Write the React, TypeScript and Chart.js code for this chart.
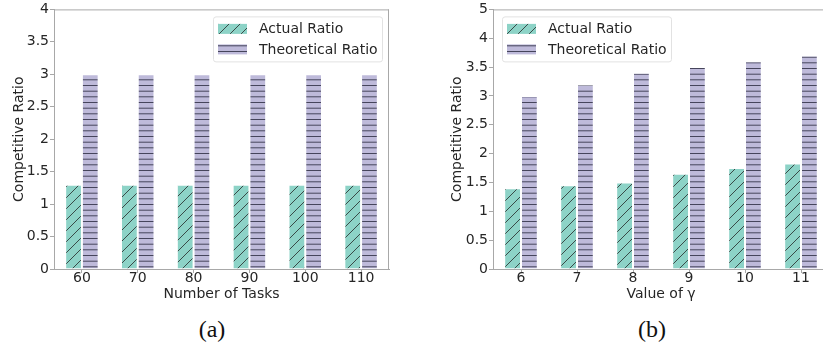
import React, { useEffect, useRef } from 'react';
import { Chart, registerables } from 'chart.js';

Chart.register(...registerables);

// ---------- data ----------
const seriesLabels = ['Actual Ratio', 'Theoretical Ratio'];

const categoriesA = ['60', '70', '80', '90', '100', '110'];
const actualA = [1.3, 1.3, 1.3, 1.3, 1.3, 1.3];
const theoreticalA = [3, 3, 3, 3, 3, 3];
const yTicksA = ['0', '0.5', '1', '1.5', '2', '2.5', '3', '3.5', '4'];

const categoriesB = ['6', '7', '8', '9', '10', '11'];
const actualB = [1.4, 1.45, 1.5, 1.65, 1.75, 1.83];
const theoreticalB = [3.0, 3.2, 3.4, 3.5, 3.6, 3.7];
const yTicksB = ['0', '0.5', '1', '1.5', '2', '2.5', '3', '3.5', '4', '5'];

// ---------- style ----------
const FONT = "'DejaVu Sans', sans-serif";
const FS = 14;
const TEXT = '#262626';
const SPINE = '#a8a8a8';
const GREEN = '#8dd3c7';
const PURPLE = '#bebada';

function makeDiag(): CanvasPattern | string {
  const s = 11;
  const c = document.createElement('canvas');
  c.width = s;
  c.height = s;
  const g = c.getContext('2d');
  if (!g) return GREEN;
  g.fillStyle = GREEN;
  g.fillRect(0, 0, s, s);
  g.strokeStyle = 'rgba(30,30,30,0.85)';
  g.lineWidth = 0.9;
  g.beginPath();
  g.moveTo(-1, s + 1);
  g.lineTo(s + 1, -1);
  g.moveTo(-2, 2);
  g.lineTo(2, -2);
  g.moveTo(s - 2, s + 2);
  g.lineTo(s + 2, s - 2);
  g.stroke();
  return g.createPattern(c, 'repeat') || GREEN;
}

function makeHoriz(): CanvasPattern | string {
  const w = 4;
  const h = 17;
  const c = document.createElement('canvas');
  c.width = w;
  c.height = h;
  const g = c.getContext('2d');
  if (!g) return PURPLE;
  g.fillStyle = PURPLE;
  g.fillRect(0, 0, w, h);
  g.strokeStyle = 'rgba(40,40,60,0.8)';
  g.lineWidth = 1;
  [0.5, 6.2, 11.8].forEach((y) => {
    g.beginPath();
    g.moveTo(0, y);
    g.lineTo(w, y);
    g.stroke();
  });
  return g.createPattern(c, 'repeat') || PURPLE;
}

const framePlugin = {
  id: 'frame',
  afterDatasetsDraw(chart: any) {
    const { ctx, chartArea } = chart;
    ctx.save();
    ctx.strokeStyle = SPINE;
    ctx.lineWidth = 1;
    ctx.beginPath();
    ctx.moveTo(chartArea.left, chartArea.top + 0.5);
    ctx.lineTo(chartArea.right, chartArea.top + 0.5);
    ctx.moveTo(chartArea.right - 0.5, chartArea.top);
    ctx.lineTo(chartArea.right - 0.5, chartArea.bottom);
    ctx.stroke();
    ctx.restore();
  },
};

const boxLegendPlugin = {
  id: 'boxLegend',
  afterDraw(chart: any, _args: any, opts: any) {
    const { ctx, chartArea } = chart;
    const w = opts.w;
    const h = opts.h;
    const x = opts.anchor === 'right' ? chartArea.right - opts.dx - w : chartArea.left + opts.dx;
    const y = chartArea.top + opts.dy;
    ctx.save();
    ctx.beginPath();
    const r = 3;
    ctx.moveTo(x + r, y + 0.5);
    ctx.lineTo(x + w - r, y + 0.5);
    ctx.quadraticCurveTo(x + w - 0.5, y + 0.5, x + w - 0.5, y + r);
    ctx.lineTo(x + w - 0.5, y + h - r);
    ctx.quadraticCurveTo(x + w - 0.5, y + h - 0.5, x + w - r, y + h - 0.5);
    ctx.lineTo(x + r, y + h - 0.5);
    ctx.quadraticCurveTo(x + 0.5, y + h - 0.5, x + 0.5, y + h - r);
    ctx.lineTo(x + 0.5, y + r);
    ctx.quadraticCurveTo(x + 0.5, y + 0.5, x + r, y + 0.5);
    ctx.closePath();
    ctx.fillStyle = 'rgba(255,255,255,0.85)';
    ctx.fill();
    ctx.strokeStyle = '#e2e2e2';
    ctx.lineWidth = 1;
    ctx.stroke();
    const ds = chart.data.datasets;
    const rows = [y + 12.5, y + 33];
    ds.forEach((d: any, i: number) => {
      const cy = rows[i];
      ctx.fillStyle = d.backgroundColor;
      ctx.fillRect(x + 5, cy - 5, 29, 10);
      ctx.fillStyle = TEXT;
      ctx.font = `${FS}px ${FONT}`;
      ctx.textBaseline = 'middle';
      ctx.textAlign = 'left';
      ctx.fillText(d.label, x + 46, cy + 0.5);
    });
    ctx.restore();
  },
};

type PanelProps = {
  categories: string[];
  actual: number[];
  theoretical: number[];
  yTickLabels: string[];
  yMax: number;
  xTitle: string;
  width: number;
  height: number;
  yAxisW: number;
  xAxisH: number;
  padTop: number;
  padRight: number;
  yTitlePad: number;
  legend: { anchor: string; dx: number; dy: number; w: number; h: number };
};

function Panel(p: PanelProps) {
  const ref = useRef<HTMLCanvasElement | null>(null);
  useEffect(() => {
    if (!ref.current) return;
    const diag = makeDiag();
    const horiz = makeHoriz();
    const chart = new Chart(ref.current, {
      type: 'bar',
      data: {
        labels: p.categories,
        datasets: [
          {
            label: seriesLabels[0],
            data: p.actual,
            backgroundColor: diag as any,
            borderColor: 'rgba(255,255,255,0.7)',
            borderWidth: 1,
            categoryPercentage: 0.6,
            barPercentage: 1,
          },
          {
            label: seriesLabels[1],
            data: p.theoretical,
            backgroundColor: horiz as any,
            borderColor: 'rgba(255,255,255,0.7)',
            borderWidth: 1,
            categoryPercentage: 0.6,
            barPercentage: 1,
          },
        ],
      },
      options: {
        responsive: false,
        animation: false,
        devicePixelRatio: 1,
        layout: { padding: { left: 0, top: p.padTop, right: p.padRight, bottom: 0 } },
        plugins: {
          legend: { display: false },
          tooltip: { enabled: false },
          boxLegend: p.legend,
        } as any,
        scales: {
          x: {
            offset: true,
            grid: { display: true, drawOnChartArea: false, drawTicks: true, tickLength: 4, tickColor: SPINE, offset: false },
            border: { display: true, color: SPINE },
            ticks: { color: TEXT, font: { family: FONT, size: FS }, padding: -3, maxRotation: 0 },
            title: { display: true, text: p.xTitle, color: TEXT, font: { family: FONT, size: FS }, padding: { top: 0, bottom: 7 } },
            afterFit: (s: any) => {
              s.height = p.xAxisH;
            },
          },
          y: {
            min: 0,
            max: p.yMax,
            grid: { display: true, drawOnChartArea: false, drawTicks: true, tickLength: 4, tickColor: SPINE },
            border: { display: true, color: SPINE },
            ticks: {
              stepSize: 0.5,
              color: TEXT,
              font: { family: FONT, size: FS },
              padding: 1,
              callback: (_v: any, i: number) => p.yTickLabels[i],
            },
            title: { display: true, text: 'Competitive Ratio', color: TEXT, font: { family: FONT, size: FS }, padding: { top: p.yTitlePad, bottom: 0 } },
            afterFit: (s: any) => {
              s.width = p.yAxisW;
            },
          },
        },
      },
      plugins: [framePlugin, boxLegendPlugin],
    });
    return () => chart.destroy();
  }, []);
  return <canvas ref={ref} width={p.width} height={p.height} style={{ display: 'block', width: p.width, height: p.height }} />;
}

const capStyle: React.CSSProperties = {
  position: 'absolute',
  top: 316,
  width: 40,
  textAlign: 'center',
  fontFamily: "'Liberation Serif', serif",
  fontSize: 24,
  color: '#111',
};

export default function App() {
  return (
    <div style={{ position: 'absolute', left: 0, top: 0, width: 823, height: 347, overflow: 'hidden', background: '#fff' }}>
      <div style={{ position: 'absolute', left: 0, top: 0 }}>
        <Panel
          categories={categoriesA}
          actual={actualA}
          theoretical={theoreticalA}
          yTickLabels={yTicksA}
          yMax={4}
          xTitle="Number of Tasks"
          width={410}
          height={310}
          yAxisW={54}
          xAxisH={41}
          padTop={7}
          padRight={21}
          yTitlePad={11}
          legend={{ anchor: 'right', dx: 6, dy: 7, w: 170, h: 46 }}
        />
      </div>
      <div style={{ position: 'absolute', left: 420, top: 0 }}>
        <Panel
          categories={categoriesB}
          actual={actualB}
          theoretical={theoreticalB}
          yTickLabels={yTicksB}
          yMax={4.5}
          xTitle="Value of γ"
          width={410}
          height={310}
          yAxisW={73}
          xAxisH={41}
          padTop={7}
          padRight={1}
          yTitlePad={29}
          legend={{ anchor: 'left', dx: 9, dy: 7, w: 170, h: 46 }}
        />
      </div>
      <div style={{ ...capStyle, left: 192 }}>(a)</div>
      <div style={{ ...capStyle, left: 632 }}>(b)</div>
    </div>
  );
}
